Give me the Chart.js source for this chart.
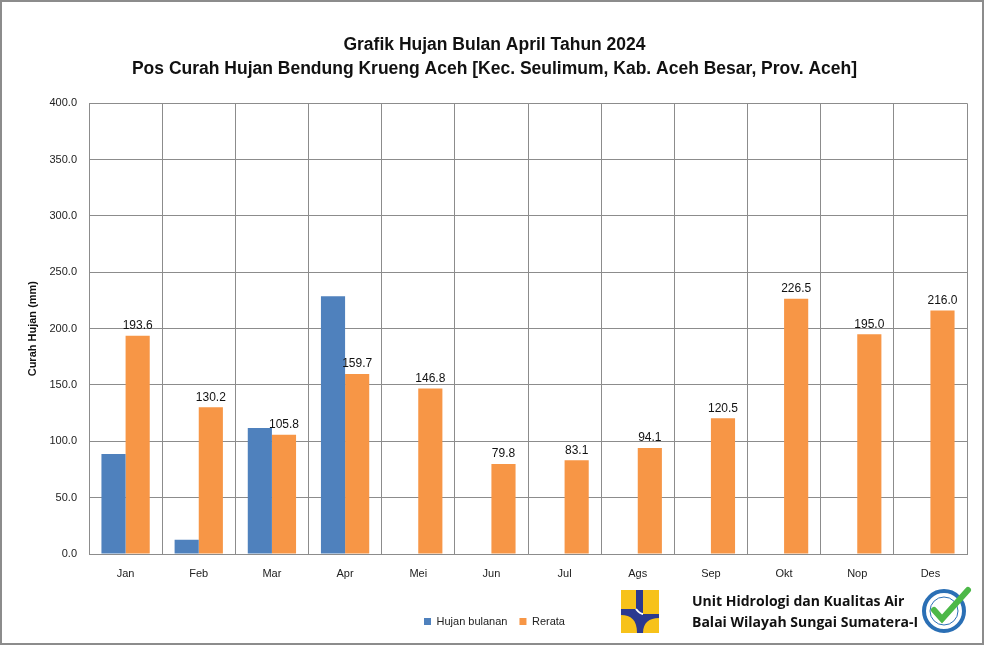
<!DOCTYPE html>
<html>
<head>
<meta charset="utf-8">
<script src="https://cdn.jsdelivr.net/npm/chart.js@4"></script>
<style>
  body { margin: 0; background: #fff; }
  #wrap { position: relative; width: 984px; height: 645px; }
  #logo { position: absolute; left: 621px; top: 590px; }
  #logoText { position: absolute; left: 692px; top: 590px; font-family: 'Open Sans', sans-serif; font-weight: bold; font-size: 14px; line-height: 21px; color: #111; }
  #iso { position: absolute; left: 920px; top: 586px; }
</style>
</head>
<body>
<div id="wrap">
  <canvas id="chart1" width="984" height="645"></canvas>
  <svg id="logo" width="38" height="43" viewBox="0 0 38 43">
    <rect x="0" y="0" width="38" height="43" fill="#2b3990"/>
    <rect x="0" y="0" width="15" height="19" fill="#f7c21a"/>
    <path d="M22 0 H38 V24 H22 Z" fill="#f7c21a"/>
    <path d="M0 25 C10 25 16 30 16 43 H0 Z" fill="#f7c21a"/>
    <path d="M38 28 C28 28 22 33 22 43 H38 Z" fill="#f7c21a"/>
    <path d="M15 19 C19 24 22 24 22 24" stroke="#fff" stroke-width="2" fill="none"/>
  </svg>
  <div id="logoText">Unit Hidrologi dan Kualitas Air<br>Balai Wilayah Sungai Sumatera-I</div>
  <svg id="iso" width="52" height="48" viewBox="0 0 52 48">
    <circle cx="24" cy="25" r="20" fill="none" stroke="#2a6fb5" stroke-width="4"/>
    <circle cx="24" cy="25" r="14" fill="#fff" stroke="#2a6fb5" stroke-width="1"/>
    <path d="M14 24 L22 33 L48 4" stroke="#4cb848" stroke-width="6" fill="none" stroke-linecap="round"/>
  </svg>
</div>
<script>
const months = ['Jan', 'Feb', 'Mar', 'Apr', 'Mei', 'Jun', 'Jul', 'Ags', 'Sep', 'Okt', 'Nop', 'Des'];
const hujanBulanan = [88.8, 12.6, 111.8, 228.8, null, null, null, null, null, null, null, null];
const rerata = [193.6, 130.2, 105.8, 159.7, 146.8, 79.8, 83.1, 94.1, 120.5, 226.5, 195.0, 216.0];
const yTicks = [0, 50, 100, 150, 200, 250, 300, 350, 400];

const tickFont = { family: "'Liberation Sans', Arial, sans-serif", size: 11 };

// labels above the orange bars
const valueLabels = {
    id: 'valueLabels',
    afterDatasetsDraw(chart) {
        const ctx = chart.ctx;
        const meta = chart.getDatasetMeta(1);
        ctx.save();
        ctx.font = "12px 'Liberation Sans', Arial, sans-serif";
        ctx.fillStyle = '#111';
        ctx.textAlign = 'center';
        ctx.textBaseline = 'bottom';
        meta.data.forEach((bar, i) => {
            ctx.fillText(rerata[i].toFixed(1), bar.x, bar.y - 4);
        });
        ctx.restore();
    }
};

const frame = {
    id: 'frame',
    beforeDraw(chart) {
        const ctx = chart.ctx;
        ctx.save();
        ctx.fillStyle = '#fff';
        ctx.fillRect(0, 0, chart.width, chart.height);
        ctx.strokeStyle = '#8c8c8c';
        ctx.lineWidth = 2;
        ctx.strokeRect(1, 1, chart.width - 2, chart.height - 2);
        ctx.restore();
    }
};

var ctx = document.getElementById('chart1').getContext('2d');
var chart = new Chart(ctx, {
    type: 'bar',
    data: {
        labels: months,
        datasets: [{
            label: 'Hujan bulanan',
            data: hujanBulanan,
            backgroundColor: '#4f81bd'
        }, {
            label: 'Rerata',
            data: rerata,
            backgroundColor: '#f79646'
        }]
    },
    options: {
        responsive: false,
        animation: false,
        datasets: {
            bar: { categoryPercentage: 0.66, barPercentage: 1.0, borderWidth: 0 }
        },
        layout: { padding: { left: 22, right: 17, top: 25, bottom: 8 } },
        plugins: {
            title: {
                display: true,
                text: ['Grafik Hujan Bulan April Tahun 2024', 'Pos Curah Hujan Bendung Krueng Aceh [Kec. Seulimum, Kab. Aceh Besar, Prov. Aceh]'],
                font: { family: "'Liberation Sans', Arial, sans-serif", size: 17.5, weight: 'bold', lineHeight: 1.38 },
                color: '#111',
                padding: { top: 8, bottom: 22 }
            },
            legend: {
                position: 'bottom',
                labels: {
                    boxWidth: 7, boxHeight: 7,
                    font: tickFont,
                    color: '#222',
                    padding: 12
                }
            },
            tooltip: { enabled: false }
        },
        scales: {
            x: {
                grid: { color: '#8c8c8c', offset: true, drawTicks: false },
                border: { color: '#8c8c8c' },
                ticks: { font: tickFont, color: '#222', padding: 13 },
                afterFit(s) { s.height = 50; }
            },
            y: {
                min: 0, max: 400,
                afterBuildTicks(s) { s.ticks = yTicks.map(v => ({ value: v })); },
                grid: { color: '#8c8c8c', drawTicks: false },
                border: { color: '#8c8c8c' },
                ticks: {
                    font: tickFont, color: '#222', padding: 12,
                    callback: v => v.toFixed(1)
                },
                title: {
                    display: true,
                    text: 'Curah Hujan (mm)',
                    font: { family: "'Liberation Sans', Arial, sans-serif", size: 11, weight: 'bold' },
                    color: '#111'
                },
                afterFit(s) { s.width = 67; }
            }
        }
    },
    plugins: [frame, valueLabels]
});
</script>
</body>
</html>
